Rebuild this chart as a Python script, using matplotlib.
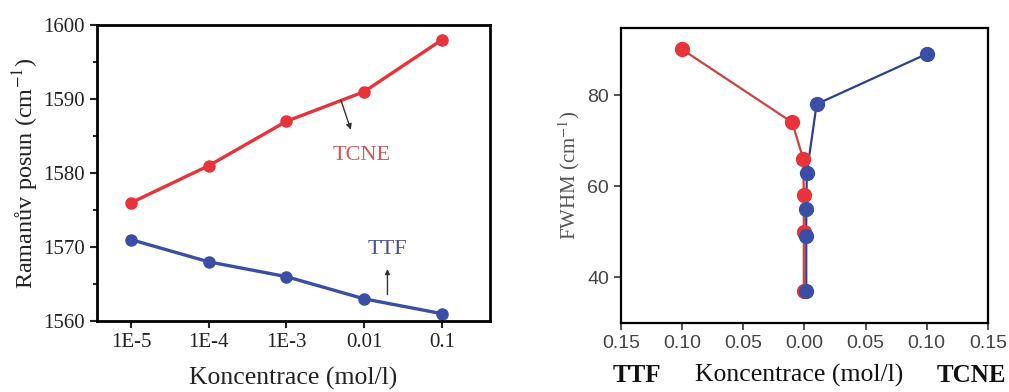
import matplotlib
matplotlib.use("Agg")
import matplotlib.pyplot as plt
from matplotlib.ticker import MultipleLocator, FixedLocator

# left panel: Raman shift vs concentration
conc_labels = ["1E-5", "1E-4", "1E-3", "0.01", "0.1"]
tcne_shift = [1576, 1581, 1587, 1591, 1598]
ttf_shift = [1571, 1568, 1566, 1563, 1561]

# right panel: FWHM vs concentration (TTF to the left, TCNE to the right)
ttf_conc = [-0.10, -0.01, -0.001, -0.0005, -0.0005, -0.0005]
ttf_fwhm = [90, 74, 66, 58, 50, 37]
tcne_conc = [0.10, 0.01, 0.002, 0.0015, 0.0015, 0.0015]
tcne_fwhm = [89, 78, 63, 55, 49, 37]

red = "#e8333a"
blue = "#3a4ea6"
serif = "Liberation Serif"
sans = "Liberation Sans"
plt.rcParams["mathtext.fontset"] = "stix"

fig = plt.figure(figsize=(10.09, 3.92), dpi=100)

# ---- left panel
ax1 = fig.add_axes([0.0961, 0.181, 0.3895, 0.755])
xpos = list(range(len(conc_labels)))
ax1.plot(xpos, tcne_shift, "-o", color=red, lw=2.4, ms=8)
ax1.plot(xpos, ttf_shift, "-o", color=blue, lw=2.4, ms=8)
ax1.set_xlim(-0.44, 4.62)
ax1.set_ylim(1560, 1600)
ax1.set_xticks(xpos)
ax1.set_xticklabels(conc_labels)
ax1.yaxis.set_major_locator(MultipleLocator(10))
ax1.yaxis.set_minor_locator(MultipleLocator(5))
ax1.tick_params(axis="both", which="major", direction="out", length=5, width=1.5,
                labelsize=15, colors="#222222")
ax1.tick_params(axis="y", which="minor", direction="out", length=3, width=1.2)
for lab in ax1.get_xticklabels() + ax1.get_yticklabels():
    lab.set_fontfamily(serif)
for sp in ax1.spines.values():
    sp.set_linewidth(2)
ax1.set_xlabel("Koncentrace (mol/l)", fontfamily=serif, fontsize=18.5, labelpad=11,
               color="#222222")
ax1.set_ylabel("Ramanův posun (cm$^{-1}$)", fontfamily=serif, fontsize=17.5,
               labelpad=2, color="#222222")
ax1.annotate("", xy=(2.84, 1585.5), xytext=(2.69, 1590.2),
             arrowprops=dict(arrowstyle="-|>", color="#333333", lw=1, mutation_scale=8))
ax1.text(2.97, 1582.4, "TCNE", color="#d0585a", fontfamily=serif, fontsize=16,
         ha="center", va="center")
ax1.annotate("", xy=(3.3, 1567.4), xytext=(3.3, 1563.2),
             arrowprops=dict(arrowstyle="-|>", color="#333333", lw=1, mutation_scale=7))
ax1.text(3.3, 1569.7, "TTF", color="#4a4f9a", fontfamily=serif, fontsize=16,
         ha="center", va="center")

# ---- right panel
ax2 = fig.add_axes([0.6155, 0.176, 0.3635, 0.7526])
ax2.plot(ttf_conc, ttf_fwhm, "-", color="#c8453f", lw=1.6)
ax2.plot(tcne_conc, tcne_fwhm, "-", color="#2f3f8f", lw=1.6)
ax2.plot(ttf_conc, ttf_fwhm, "o", color=red, ms=10)
ax2.plot(tcne_conc, tcne_fwhm, "o", color=blue, ms=10)
ax2.set_xlim(-0.15, 0.15)
ax2.set_ylim(30, 94.7)
xt = [-0.15, -0.10, -0.05, 0.0, 0.05, 0.10, 0.15]
ax2.xaxis.set_major_locator(FixedLocator(xt))
ax2.set_xticklabels(["%.2f" % abs(v) for v in xt])
ax2.set_yticks([40, 60, 80])
ax2.tick_params(axis="both", direction="out", length=5, width=1.3,
                labelsize=14, colors="#444444")
for lab in ax2.get_xticklabels() + ax2.get_yticklabels():
    lab.set_fontfamily(sans)
for sp in ax2.spines.values():
    sp.set_linewidth(1.6)
ax2.set_ylabel("FWHM (cm$^{-1}$)", fontfamily=serif, fontsize=15, labelpad=4,
               color="#555555")
fig.text(637 / 1009, 1 - 375 / 392, "TTF", fontfamily=serif, fontweight="bold",
         fontsize=18, ha="center", va="center", color="#111111")
fig.text(799 / 1009, 1 - 375 / 392, "Koncentrace (mol/l)", fontfamily=serif,
         fontsize=18.5, ha="center", va="center", color="#111111")
fig.text(971 / 1009, 1 - 375 / 392, "TCNE", fontfamily=serif, fontweight="bold",
         fontsize=18, ha="center", va="center", color="#111111")

fig.savefig("out.png", dpi=100)
